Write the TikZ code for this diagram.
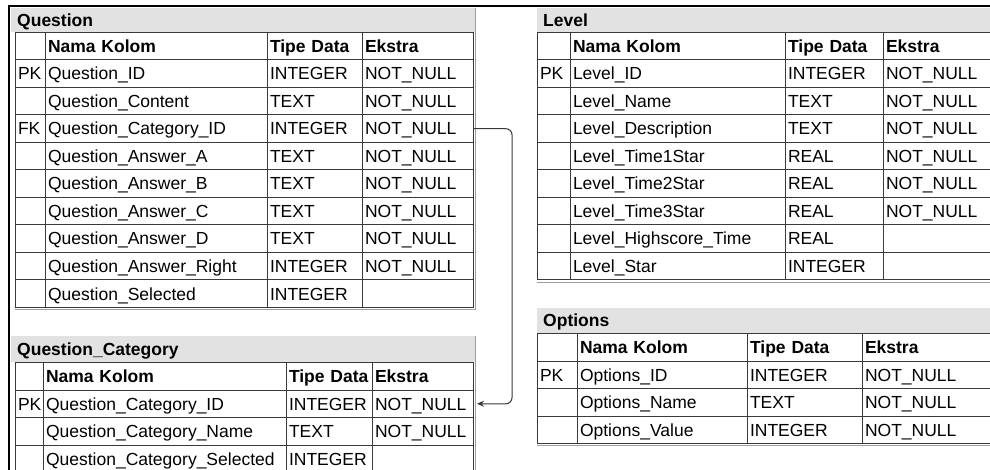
\documentclass[tikz,border=0pt]{standalone}
\usepackage{fontspec}
\setmainfont{Liberation Sans}
\usetikzlibrary{arrows.meta}

\definecolor{garis}{HTML}{3A3A3A}
\definecolor{judulbg}{HTML}{E2E2E2}

% kolom: tepi kiri tiap kolom + tepi kanan tabel
\newcommand{\kolom}[5]{\def\xa{#1}\def\xb{#2}\def\xc{#3}\def\xd{#4}\def\xe{#5}}

% isi tabel: #1 nama, #2 y atas, #3 baris (kunci/nama/tipe/ekstra)
\newcommand{\isitabel}[3]{%
  \foreach \kunci/\nama/\tipe/\ekstra [count=\baris from 0] in {#3}{
    \pgfmathsetmacro\lebarA{\xb-\xa-5}
    \pgfmathsetmacro\lebarB{\xc-\xb-5}
    \pgfmathsetmacro\lebarC{\xd-\xc-5}
    \pgfmathsetmacro\lebarD{\xe-\xd-5}
    \pgfmathsetmacro\ytop{#2+27.5*\baris}
    \node[cell, text width=\lebarA pt] (#1-\baris-1) at (\xa,\ytop) {\kunci};
    \node[cell, text width=\lebarB pt] (#1-\baris-2) at (\xb,\ytop) {\nama};
    \node[cell, text width=\lebarC pt] (#1-\baris-3) at (\xc,\ytop) {\tipe};
    \node[cell, text width=\lebarD pt] (#1-\baris-4) at (\xd,\ytop) {\ekstra};
  }}

\tikzset{
  cell/.style={draw=garis, line width=1pt, anchor=north west,
    inner xsep=2.5pt, inner ysep=0pt, minimum height=27.5pt,
    text height=12.5pt, text depth=0pt, align=left,
    font=\fontsize{17.5}{20}\selectfont},
  judul/.style={fill=judulbg, anchor=north west, inner xsep=6pt, inner ysep=0pt,
    minimum height=#1, text height=12.5pt, text depth=0pt, align=left,
    font=\fontsize{17.5}{20}\selectfont\bfseries},
  bayang/.style={draw=gray!75, line width=1pt},
  relasi/.style={draw=garis, line width=1pt, rounded corners=6pt,
    -{Stealth[length=7pt,width=6pt]}, shorten >=3pt}
}

\begin{document}
\begin{tikzpicture}[x=1pt, y=-1pt]
  \clip (0,0) rectangle (990,470);
  \fill[white] (0,0) rectangle (990,470);

  % bingkai
  \draw[line width=2pt] (9,480) -- (9,6) -- (1000,6);

  % Question
  \node[judul=24pt, text width=452pt] (question) at (11,8) {Question};
  \kolom{15}{45}{267}{362}{473}
  \isitabel{question}{32}{
    {}/\textbf{Nama Kolom}/\textbf{Tipe Data}/\textbf{Ekstra},
    PK/Question\_ID/INTEGER/NOT\_NULL,
    {}/Question\_Content/TEXT/NOT\_NULL,
    FK/Question\_Category\_ID/INTEGER/NOT\_NULL,
    {}/Question\_Answer\_A/TEXT/NOT\_NULL,
    {}/Question\_Answer\_B/TEXT/NOT\_NULL,
    {}/Question\_Answer\_C/TEXT/NOT\_NULL,
    {}/Question\_Answer\_D/TEXT/NOT\_NULL,
    {}/Question\_Answer\_Right/INTEGER/NOT\_NULL,
    {}/Question\_Selected/INTEGER/{}}
  \draw[bayang] (question.north east) |- ([yshift=-1.5pt]question-9-1.south west);

  % Question_Category
  \node[judul=26pt, text width=452pt] (kategori) at (11,336) {Question\_Category};
  \kolom{15}{43}{286}{372}{473}
  \isitabel{kategori}{362}{
    {}/\textbf{Nama Kolom}/\textbf{Tipe Data}/\textbf{Ekstra},
    PK/Question\_Category\_ID/INTEGER/NOT\_NULL,
    {}/Question\_Category\_Name/TEXT/NOT\_NULL,
    {}/Question\_Category\_Selected/INTEGER/{}}
  \draw[bayang] (kategori.north east) -- ++(0,150);

  % Level
  \node[judul=24pt, text width=451pt] (level) at (537,8) {Level};
  \kolom{537}{570}{785}{883}{1000}
  \isitabel{level}{32}{
    {}/\textbf{Nama Kolom}/\textbf{Tipe Data}/\textbf{Ekstra},
    PK/Level\_ID/INTEGER/NOT\_NULL,
    {}/Level\_Name/TEXT/NOT\_NULL,
    {}/Level\_Description/TEXT/NOT\_NULL,
    {}/Level\_Time1Star/REAL/NOT\_NULL,
    {}/Level\_Time2Star/REAL/NOT\_NULL,
    {}/Level\_Time3Star/REAL/NOT\_NULL,
    {}/Level\_Highscore\_Time/REAL/{},
    {}/Level\_Star/INTEGER/{}}
  \draw[bayang] ([yshift=-1.5pt]level-8-1.south west) -- ++(480,0);

  % Options
  \node[judul=25pt, text width=451pt] (options) at (537,308) {Options};
  \kolom{537}{577}{747}{862}{1000}
  \isitabel{options}{333}{
    {}/\textbf{Nama Kolom}/\textbf{Tipe Data}/\textbf{Ekstra},
    PK/Options\_ID/INTEGER/NOT\_NULL,
    {}/Options\_Name/TEXT/NOT\_NULL,
    {}/Options\_Value/INTEGER/NOT\_NULL}
  \draw[bayang] ([yshift=-1.5pt]options-3-1.south west) -- ++(480,0);

  % relasi FK -> PK
  \draw[relasi] (question-3-4.east) -- ++(38,0) |- (kategori-1-4.east);
\end{tikzpicture}
\end{document}
